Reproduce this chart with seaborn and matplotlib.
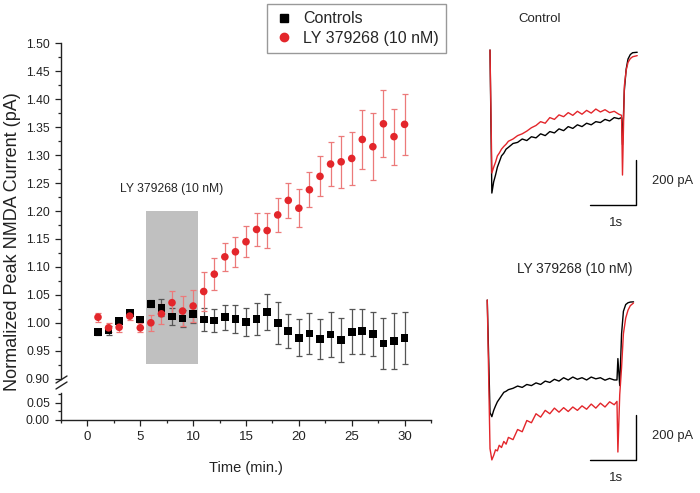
import numpy as np
import pandas as pd
import seaborn as sns
from matplotlib import pyplot as plt
from matplotlib.lines import Line2D
from matplotlib.patches import Rectangle
from matplotlib.ticker import MultipleLocator

sns.set_style('ticks')
plt.rcParams['font.family'] = ['Liberation Sans', 'DejaVu Sans']

# time course (min.)
time_min = list(range(1, 31))
ctrl_mean = [0.984, 0.986, 1.003, 1.017, 1.006, 1.034, 1.027, 1.011, 1.008, 1.016,
             1.006, 1.004, 1.010, 1.007, 1.001, 1.007, 1.019, 1.000, 0.985, 0.973,
             0.981, 0.971, 0.979, 0.969, 0.984, 0.985, 0.980, 0.963, 0.967, 0.973]
ctrl_err = [0.005, 0.008, 0.006, 0.005, 0.005, 0.006, 0.015, 0.015, 0.015, 0.016,
            0.020, 0.020, 0.022, 0.025, 0.025, 0.029, 0.032, 0.038, 0.030, 0.033,
            0.036, 0.035, 0.040, 0.040, 0.040, 0.040, 0.039, 0.046, 0.050, 0.046]
ly_mean = [1.010, 0.991, 0.992, 1.012, 0.991, 1.000, 1.016, 1.036, 1.021, 1.030,
           1.056, 1.087, 1.118, 1.127, 1.145, 1.167, 1.165, 1.193, 1.219, 1.205,
           1.238, 1.262, 1.284, 1.288, 1.294, 1.328, 1.315, 1.356, 1.333, 1.355]
ly_err = [0.008, 0.008, 0.009, 0.007, 0.008, 0.014, 0.018, 0.021, 0.027, 0.029,
          0.034, 0.029, 0.025, 0.027, 0.028, 0.029, 0.031, 0.030, 0.031, 0.034,
          0.031, 0.036, 0.040, 0.046, 0.048, 0.052, 0.060, 0.060, 0.050, 0.055]
drug_window = (5.5, 10.5)
drug_label = 'LY 379268 (10 nM)'

# example current traces (s, pA)
trace_t_top = [0, 0.04, 0.08, 0.12, 0.16, 0.2, 0.25, 0.3, 0.35, 0.4, 0.5, 0.6, 0.7, 0.8,
               0.9, 1.0, 1.1, 1.2, 1.3, 1.4, 1.5, 1.6, 1.7, 1.8, 1.9, 2.0, 2.1, 2.2, 2.3,
               2.4, 2.5, 2.6, 2.7, 2.8, 2.86, 2.88, 2.92, 2.96, 3.0, 3.05, 3.1, 3.2]
ctrl_trace_black = [0, -635, -585, -555, -520, -498, -470, -458, -440, -432, -415, -410,
                    -395, -402, -385, -390, -372, -380, -362, -368, -350, -358, -340,
                    -348, -332, -340, -325, -332, -318, -322, -308, -315, -300, -305,
                    -300, -420, -180, -85, -40, -20, -12, -10]
ctrl_trace_red = [0, -546, -520, -498, -470, -458, -440, -428, -418, -405, -395, -380,
                  -372, -360, -345, -335, -318, -325, -300, -308, -288, -296, -278,
                  -290, -272, -285, -268, -280, -262, -275, -265, -278, -272, -285,
                  -290, -555, -160, -90, -55, -38, -30, -25]
trace_t_bot = [-0.06, 0, 0.04, 0.08, 0.12, 0.16, 0.2, 0.25, 0.3, 0.35, 0.4, 0.5, 0.6,
               0.7, 0.8, 0.9, 1.0, 1.1, 1.2, 1.3, 1.4, 1.5, 1.6, 1.7, 1.8, 1.9, 2.0,
               2.1, 2.2, 2.3, 2.4, 2.5, 2.6, 2.7, 2.76, 2.78, 2.82, 2.86, 2.9, 2.95,
               3.0, 3.05, 3.12]
ly_trace_black = [0, -500, -518, -490, -470, -452, -440, -425, -410, -405, -398, -392,
                  -382, -388, -375, -380, -368, -375, -360, -366, -352, -360, -345,
                  -355, -342, -352, -345, -355, -342, -350, -345, -356, -348, -355,
                  -355, -260, -380, -150, -50, -20, -12, -9, -8]
ly_trace_red = [0, -660, -710, -690, -665, -670, -645, -655, -628, -640, -610, -620,
                -575, -585, -535, -545, -505, -520, -490, -505, -480, -498, -478,
                -495, -475, -490, -470, -485, -462, -480, -458, -475, -452, -465,
                -450, -675, -420, -300, -150, -80, -45, -25, -13]

RED = '#e3262b'

df = pd.DataFrame({
    'time': time_min * 2,
    'value': ctrl_mean + ly_mean,
    'group': ['Controls'] * 30 + [drug_label] * 30,
})

fig = plt.figure(figsize=(7, 4.93), dpi=100)
ax = fig.add_axes([61 / 700, 1 - 378.7 / 493, 370 / 700, 335.4 / 493])
ax_lo = fig.add_axes([61 / 700, 1 - 420 / 493, 370 / 700, 27 / 493], sharex=ax)

ax.add_patch(Rectangle((drug_window[0], 0.927), drug_window[1] - drug_window[0],
                       1.20 - 0.927, facecolor='#c0c0c0', edgecolor='none', zorder=1))
ax.text(np.mean(drug_window), 1.228, drug_label, ha='center', va='bottom', fontsize=8.7)

ax.errorbar(time_min, ctrl_mean, yerr=ctrl_err, fmt='none', ecolor='#555555',
            elinewidth=0.9, capsize=2.5, capthick=0.9, zorder=2)
ax.errorbar(time_min, ly_mean, yerr=ly_err, fmt='none', ecolor='#ec7a7a',
            elinewidth=0.9, capsize=2.5, capthick=0.9, zorder=2)
sns.scatterplot(data=df, x='time', y='value', hue='group', style='group',
                markers={'Controls': 's', drug_label: 'o'},
                palette={'Controls': 'black', drug_label: RED},
                s=30, linewidth=0, ax=ax, legend=False, zorder=3)

ax.set_xlim(-2.5, 32.5)
ax.set_ylim(0.9, 1.5)
ax.yaxis.set_major_locator(MultipleLocator(0.05))
ax.yaxis.set_minor_locator(MultipleLocator(0.025))
ax.yaxis.set_major_formatter(plt.FormatStrFormatter('%.2f'))
for s in ['top', 'right', 'bottom']:
    ax.spines[s].set_visible(False)
ax.tick_params(axis='x', which='both', bottom=False, labelbottom=False)
ax.set_xlabel('')
ax.set_ylabel('')

ax_lo.set_ylim(0, 0.078)
ax_lo.yaxis.set_major_locator(MultipleLocator(0.05))
ax_lo.yaxis.set_minor_locator(MultipleLocator(0.025))
ax_lo.yaxis.set_major_formatter(plt.FormatStrFormatter('%.2f'))
ax_lo.xaxis.set_major_locator(MultipleLocator(5))
ax_lo.xaxis.set_minor_locator(MultipleLocator(2.5))
for s in ['top', 'right']:
    ax_lo.spines[s].set_visible(False)
ax_lo.set_xlabel('')

for a in (ax, ax_lo):
    a.tick_params(which='major', length=4.5, width=0.9, labelsize=8.7, colors='#222222')
    a.tick_params(which='minor', length=2.5, width=0.9)
    for s in a.spines.values():
        s.set_linewidth(1.0)
        s.set_color('#222222')
ax_lo.tick_params(axis='x', labelsize=9.5)

# break marks
for y0 in (383, 389):
    fig.add_artist(Line2D([56 / 700, 67 / 700], [1 - y0 / 493, 1 - (y0 - 7) / 493],
                          color='#222222', lw=1.0))

fig.text(13 / 700, 1 - 242 / 493, 'Normalized Peak NMDA Current (pA)', rotation=90,
         ha='center', va='center', fontsize=13, color='#222222')
fig.text(246 / 700, 1 - 468 / 493, 'Time (min.)', ha='center', va='center',
         fontsize=10.5, color='#222222')

handles = [Line2D([], [], marker='s', ls='none', color='black', markersize=5.5),
           Line2D([], [], marker='o', ls='none', color=RED, markersize=6)]
fig.legend(handles, ['Controls', drug_label], loc='upper left',
           bbox_to_anchor=(267 / 700, 1 - 4 / 493), fontsize=11.5, frameon=True,
           fancybox=False, edgecolor='#808080', handletextpad=0.6,
           borderpad=0.45, labelspacing=0.3, handlelength=1.2, borderaxespad=0)

# trace panels
def trace_panel(rect, ylim, t, black, red, title, bar_top):
    tax = fig.add_axes(rect)
    sns.lineplot(x=t, y=black, color='black', lw=1.0, ax=tax, estimator=None, sort=False)
    sns.lineplot(x=t, y=red, color=RED, lw=1.0, ax=tax, estimator=None, sort=False)
    tax.set_xlim(-0.435, 4.565)
    tax.set_ylim(*ylim)
    tax.plot([3.17, 3.17, 2.17], [bar_top, bar_top - 200, bar_top - 200], color='black', lw=1.0)
    tax.text(3.52, bar_top - 95, '200 pA', ha='left', va='center', fontsize=9.3)
    tax.text(2.74, bar_top - 280, '1s', ha='center', va='center', fontsize=9.5)
    tax.text(1.07 if title == 'Control' else 1.85, 139, title, ha='center', va='center',
             fontsize=9.5 if title == 'Control' else 9.8)
    tax.axis('off')
    return tax

trace_panel([470 / 700, 1 - 246 / 493, 230 / 700, 246 / 493], (-870, 222),
            trace_t_top, ctrl_trace_black, ctrl_trace_red, 'Control', -488)
trace_panel([470 / 700, 0, 230 / 700, 247 / 493], (-857, 240),
            trace_t_bot, ly_trace_black, ly_trace_red, drug_label, -511)

fig.savefig('out.png', dpi=100)
